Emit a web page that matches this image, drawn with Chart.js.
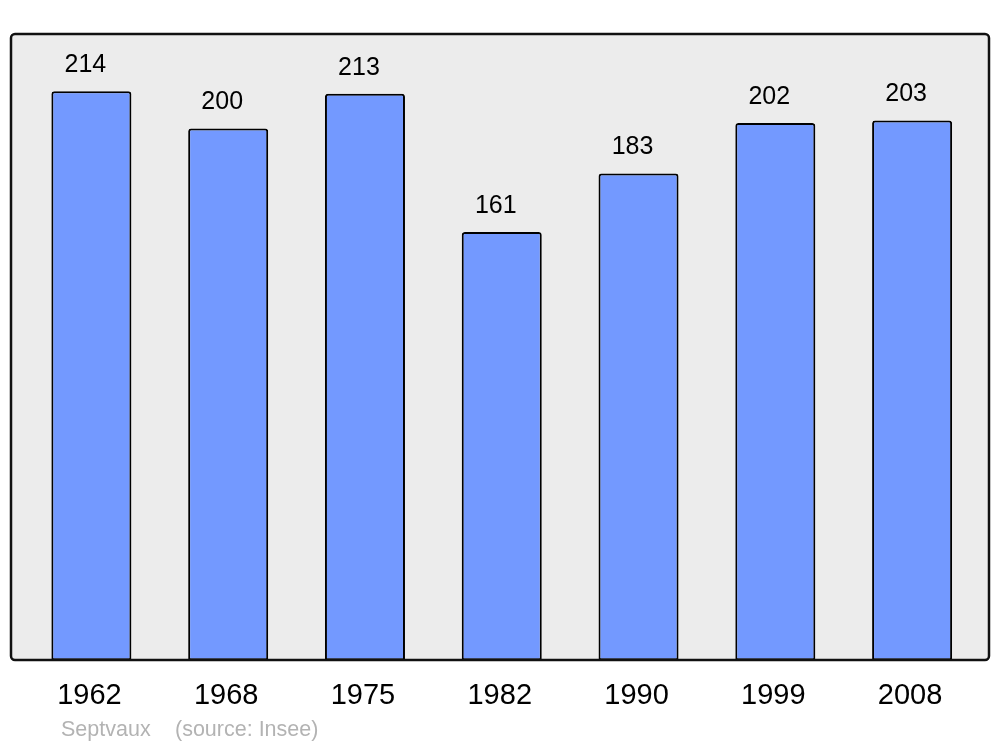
<!DOCTYPE html>
<html>
<head>
<meta charset="utf-8">
<script src="https://cdn.jsdelivr.net/npm/chart.js@4"></script>
<style>
  body { margin: 0; background: #fff; }
  #wrap { width: 1000px; height: 747px; }
</style>
</head>
<body>
<div id="wrap"><canvas id="popChart" width="1000" height="747"></canvas></div>
<script>
const years = ["1962", "1968", "1975", "1982", "1990", "1999", "2008"]
const population = [214, 200, 213, 161, 183, 202, 203]
const yMax = 235.5
const townName = "Septvaux"
const sourceText = "(source: Insee)"

const frame = { left: 11, top: 34, right: 989, bottom: 660, radius: 4 }

function framePath(ctx) {
	ctx.beginPath()
	ctx.roundRect(frame.left, frame.top, frame.right - frame.left, frame.bottom - frame.top, frame.radius)
}

const framePlugin = {
	id: "frame",
	beforeDatasetsDraw(chart) {
		const ctx = chart.ctx
		ctx.save()
		framePath(ctx)
		ctx.fillStyle = "#ececec"
		ctx.fill()
		ctx.restore()
	},
	afterDatasetsDraw(chart) {
		const ctx = chart.ctx
		ctx.save()
		framePath(ctx)
		ctx.lineWidth = 2.5
		ctx.strokeStyle = "#111"
		ctx.stroke()

		// value labels above each bar
		const meta = chart.getDatasetMeta(0)
		ctx.fillStyle = "#000"
		ctx.font = "25px 'Liberation Sans', Arial, sans-serif"
		ctx.textAlign = "center"
		ctx.textBaseline = "middle"
		meta.data.forEach((bar, i) => {
			ctx.fillText(String(population[i]), bar.x - 6, bar.y - 26)
		})

		// footer
		ctx.fillStyle = "#b3b3b3"
		ctx.font = "21.5px 'Liberation Sans', Arial, sans-serif"
		ctx.textAlign = "left"
		ctx.fillText(townName, 61, 730)
		ctx.fillText(sourceText, 175, 730)
		ctx.restore()
	},
}

new Chart(document.getElementById("popChart"), {
	type: "bar",
	data: {
		labels: years,
		datasets: [
			{
				data: population,
				backgroundColor: "#7399ff",
				borderColor: "#000",
				borderWidth: 2,
				borderSkipped: false,
				borderRadius: { topLeft: 3, topRight: 3, bottomLeft: 0, bottomRight: 0 },
				barPercentage: 0.585,
				categoryPercentage: 1,
			},
		],
	},
	options: {
		responsive: false,
		animation: false,
		layout: { padding: { left: 23, right: 19.5, top: 34, bottom: 16 } },
		plugins: { legend: { display: false }, tooltip: { enabled: false } },
		scales: {
			y: { display: false, min: 0, max: yMax },
			x: {
				grid: { display: false, drawTicks: false },
				border: { display: false },
				ticks: {
					color: "#000",
					padding: 18,
					maxRotation: 0,
					labelOffset: -2,
					font: { size: 29, family: "'Liberation Sans', Arial, sans-serif", lineHeight: 1.2 },
				},
			},
		},
	},
	plugins: [framePlugin],
})
</script>
</body>
</html>
